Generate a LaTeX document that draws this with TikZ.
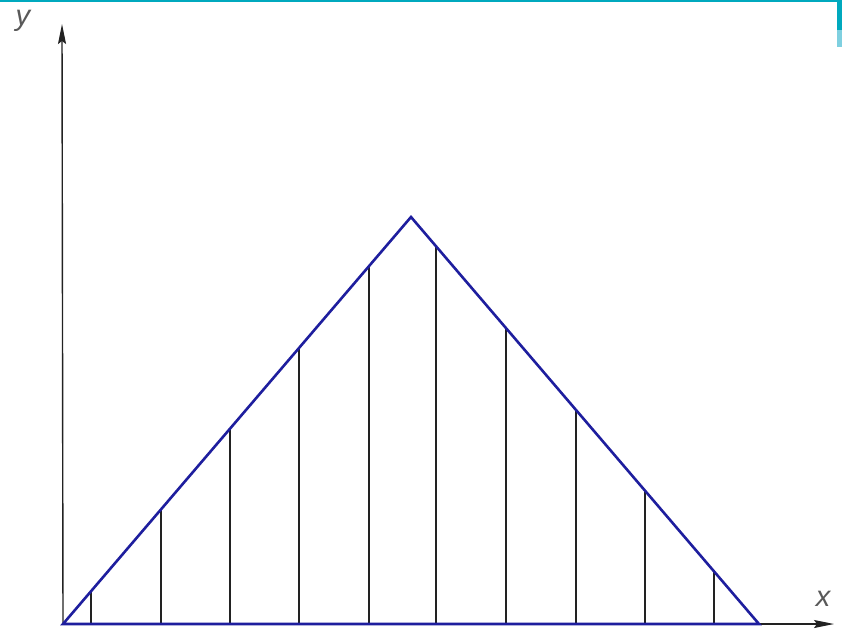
\documentclass[tikz,border=0pt]{standalone}
\usepackage{fontspec}
\setmainfont{Liberation Sans}
\usetikzlibrary{arrows.meta}
\definecolor{tri}{HTML}{1E1E9E}
\definecolor{axisc}{HTML}{222222}
\definecolor{cyantop}{HTML}{00A9BE}
\definecolor{cyanlight}{HTML}{7FD0E0}
\tikzset{
  axis/.style={draw=axisc, line width=1.4pt, -{Stealth[length=20pt,width=8pt,inset=3pt]}},
  triline/.style={draw=tri, line width=2.6pt, line join=miter},
  hatch/.style={draw=axisc, line width=1.1pt},
  lab/.style={font=\itshape\fontsize{29}{29}\selectfont, text=axisc!75, inner sep=0pt}
}
\begin{document}
\begin{tikzpicture}[x=1pt,y=-1pt]
\useasboundingbox (0,0) rectangle (842,631);
\fill[white] (0,0) rectangle (842,631);
% screenshot frame remnants
\fill[cyantop] (0,0) rectangle (842,2.2);
\fill[cyantop] (837,0) rectangle (842,30);
\fill[cyanlight] (837,30) rectangle (842,47);
% axes
\coordinate (O) at (63,624);
\coordinate (Ytip) at (62,24);
\coordinate (Xtip) at (834,624);
\draw[axis] (O) -- (Ytip);
\draw[axis] (O) -- (Xtip);
\node[lab] (ylab) at (23,21) {y};
\node[lab] (xlab) at (823,599) {x};
% triangle
\coordinate (A) at (63,624);
\coordinate (P) at (411,217);
\coordinate (B) at (759,624);
% vertical lines
\foreach \i/\x/\y in {1/91/591.3, 2/161/509.4, 3/230/428.7, 4/299/348.0, 5/369/266.1,
                      6/436/246.2, 7/506/328.1, 8/576/410.0, 9/645/490.7, 10/714/571.4}{
  \coordinate (b\i) at (\x,624);
  \coordinate (t\i) at (\x,\y);
  \draw[hatch] (b\i) -- (t\i);
}
\draw[triline] (A) -- (P) -- (B) -- cycle;
\end{tikzpicture}
\end{document}
